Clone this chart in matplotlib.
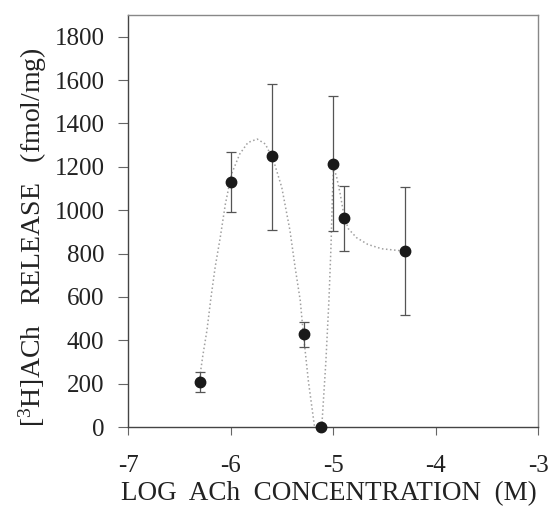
import matplotlib
matplotlib.use("Agg")
import matplotlib.pyplot as plt

plt.rcParams['font.family'] = ['Liberation Serif', 'DejaVu Serif']
plt.rcParams['mathtext.fontset'] = 'custom'
plt.rcParams['mathtext.rm'] = 'Liberation Serif'
plt.rcParams['mathtext.it'] = 'Liberation Serif:italic'
plt.rcParams['axes.unicode_minus'] = False

# datos medidos
log_conc = [-6.30, -6.00, -5.60, -5.28, -5.12, -5.00, -4.89, -4.30]
release = [208, 1128, 1248, 428, 0, 1215, 962, 810]
err_sup = [46, 138, 336, 58, 0, 310, 150, 295]
err_inf = [46, 138, 338, 60, 0, 312, 152, 295]

# curva ajustada
curva_x = [-6.30, -6.27, -6.23, -6.19, -6.15, -6.10, -6.05, -5.99, -5.91, -5.83,
           -5.74, -5.66, -5.58, -5.50, -5.42, -5.37, -5.32, -5.29, -5.24, -5.18]
curva_y = [230, 330, 446, 600, 737, 875, 1029, 1167, 1259, 1312,
           1328, 1305, 1228, 1105, 906, 737, 584, 432, 210, 0]
curva2_x = [-5.11, -5.07, -5.04, -5.02, -5.005, -4.995, -4.964, -4.93, -4.89, -4.85,
            -4.77, -4.66, -4.525, -4.36, -4.30]
curva2_y = [0, 300, 584, 830, 1080, 1200, 1151, 1075, 967, 914,
            873, 842, 822, 814, 810]

fig = plt.figure(figsize=(5.49, 5.17), dpi=100)
ax = fig.add_axes([0.2332, 0.174, 0.7468, 0.797])

ax.plot(curva_x, curva_y, linestyle=':', color='#a0a0a0', linewidth=1.1)
ax.plot(curva2_x, curva2_y, linestyle=':', color='#a0a0a0', linewidth=1.1)

ax.errorbar(log_conc, release, yerr=[err_inf, err_sup], fmt='o', color='#1a1a1a',
            ecolor='#555555', elinewidth=0.9, capsize=3.5, capthick=0.9,
            markersize=7.5, clip_on=False, zorder=3)

ax.set_xlim(-7, -3)
ax.set_ylim(0, 1900)
ax.set_xticks([-7, -6, -5, -4, -3])
ax.set_yticks(range(0, 1801, 200))

for lado in ['left', 'bottom']:
    ax.spines[lado].set_color('#444444')
    ax.spines[lado].set_linewidth(1.0)
for lado in ['top', 'right']:
    ax.spines[lado].set_color('#888888')
    ax.spines[lado].set_linewidth(1.0)

ax.tick_params(axis='x', direction='out', length=6, width=0.8, color='#666666',
               labelsize=18, pad=14, labelcolor='#222222')
ax.tick_params(axis='y', direction='out', length=7, width=0.8, color='#666666',
               labelsize=18, pad=10, labelcolor='#222222')

ax.set_xlabel('LOG  ACh  CONCENTRATION  (M)', fontsize=19.5, labelpad=3,
              color='#222222', x=0.49)
ax.set_ylabel(r'[$^{3}$H]ACh   RELEASE   (fmol/mg)', fontsize=20, labelpad=4,
              color='#222222', y=0.46)

fig.savefig('out.png', dpi=100)
